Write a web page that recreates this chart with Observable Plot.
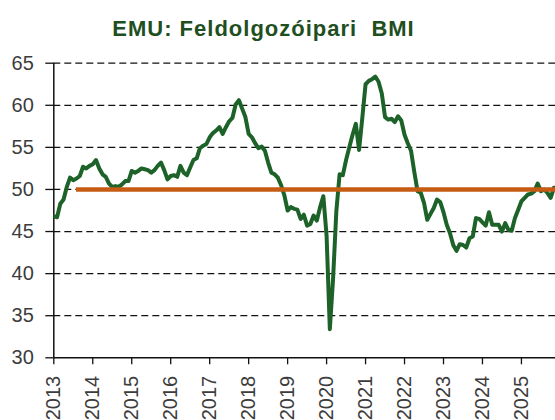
<!DOCTYPE html>
<html><head><meta charset="utf-8">
<script src="https://cdn.jsdelivr.net/npm/d3@7"></script>
<script src="https://cdn.jsdelivr.net/npm/@observablehq/plot@0.6"></script>
<style>
html,body{margin:0;padding:0;background:#fff;overflow:hidden;width:555px;height:420px}
#title{height:50px;box-sizing:border-box;padding-top:17px;font:bold 22px "Liberation Sans",Arial,sans-serif;letter-spacing:1px;color:#1f4f1f;white-space:pre;text-align:center;padding-right:28px;line-height:24px}
#chart svg{display:block}
</style></head><body>
<div id="title">EMU: Feldolgozóipari  BMI</div>
<div id="chart"></div>
<script>
// first observation is drawn at the 2013 tick, one point per month
const startYear = 2013;
const v2013 = [46.8, 46.7, 48.3, 48.8, 50.3, 51.4, 51.1, 51.3, 51.6, 52.7];
const v2014 = [52.5, 52.8, 53.0, 53.5, 52.5, 51.8, 51.5, 50.7, 50.3, 50.4, 50.3, 50.6];
const v2015 = [51.0, 51.0, 52.2, 52.0, 52.2, 52.5, 52.4, 52.3, 52.0, 52.3, 52.8, 53.2];
const v2016 = [52.3, 51.2, 51.6, 51.7, 51.5, 52.8, 52.0, 51.7, 52.6, 53.5, 53.7, 54.9];
const v2017 = [55.2, 55.4, 56.2, 56.7, 57.0, 57.4, 56.6, 57.4, 58.1, 58.5, 60.1, 60.6];
const v2018 = [59.6, 58.6, 56.6, 56.2, 55.5, 54.9, 55.1, 54.6, 53.2, 52.0, 51.8, 51.4];
const v2019 = [50.5, 49.3, 47.5, 47.9, 47.7, 47.6, 46.5, 47.0, 45.7, 45.9, 46.9, 46.3];
const v2020 = [47.9, 49.2, 44.5, 33.4, 39.4, 47.4, 51.8, 51.7, 53.5, 55.0, 56.5, 57.8];
const v2021 = [54.7, 58.5, 62.5, 62.9, 63.1, 63.4, 62.8, 61.4, 58.6, 58.3, 58.4, 58.0];
const v2022 = [58.7, 58.2, 56.5, 55.5, 54.6, 52.1, 49.8, 49.6, 48.4, 46.4, 47.1, 47.8];
const v2023 = [48.8, 48.5, 47.3, 45.8, 44.8, 43.4, 42.7, 43.5, 43.4, 43.1, 44.2, 44.4];
const v2024 = [46.6, 46.5, 46.1, 45.7, 47.3, 45.8, 45.8, 45.8, 45.0, 46.0, 45.2, 45.1];
const v2025 = [46.6, 47.6, 48.6, 49.0, 49.4, 49.5, 49.8, 50.7, 49.8, 50.0, 49.6, 49.0];
const v2026 = [50.2];

const xTicks = [2013, 2014, 2015, 2016, 2017, 2018, 2019, 2020, 2021, 2022, 2023, 2024, 2025];
const yTicks = [30, 35, 40, 45, 50, 55, 60, 65];
const gridValues = [35, 40, 45, 50, 55, 60, 65];
const threshold = 50;
const thresholdStartIndex = 7;
const xMax = 2025.874;

const pmi = [...v2013, ...v2014, ...v2015, ...v2016, ...v2017, ...v2018, ...v2019,
             ...v2020, ...v2021, ...v2022, ...v2023, ...v2024, ...v2025, ...v2026];
const data = pmi.map((v, i) => ({t: startYear + i / 12, v}));

const font = '"Liberation Sans", Arial, sans-serif';
const chart = Plot.plot({
  width: 555, height: 370,
  marginLeft: 53.3, marginRight: 0, marginTop: 12.7, marginBottom: 62.7,
  style: {fontFamily: font, fontSize: "20px", background: "#fff", overflow: "hidden"},
  x: {domain: [2013, xMax]},
  y: {domain: [30, 65]},
  marks: [
    Plot.gridY(gridValues, {stroke: "#111", strokeOpacity: 1, strokeDasharray: "7,4", strokeWidth: 1.3}),
    Plot.axisY({ticks: yTicks, tickSize: 8, tickPadding: 12, fontSize: 20, fill: "#3c3c3c", stroke: "#111", strokeWidth: 1.3, label: null}),
    Plot.axisX({ticks: xTicks, tickFormat: d => String(d), tickRotate: -90, tickSize: 7, tickPadding: 11, fontSize: 20, fill: "#3c3c3c", stroke: "#111", strokeWidth: 1.3, label: null}),
    Plot.ruleX([2013], {stroke: "#111", strokeWidth: 1.5}),
    Plot.ruleY([30], {stroke: "#111", strokeWidth: 1.5}),
    Plot.lineY(data, {x: "t", y: "v", stroke: "#1d6228", strokeWidth: 4, strokeLinejoin: "round", clip: true}),
    Plot.ruleY([threshold], {x1: data[thresholdStartIndex].t, x2: xMax, stroke: "#c65b14", strokeWidth: 4.5})
  ]
});
document.getElementById("chart").append(chart);
</script>
</body></html>
